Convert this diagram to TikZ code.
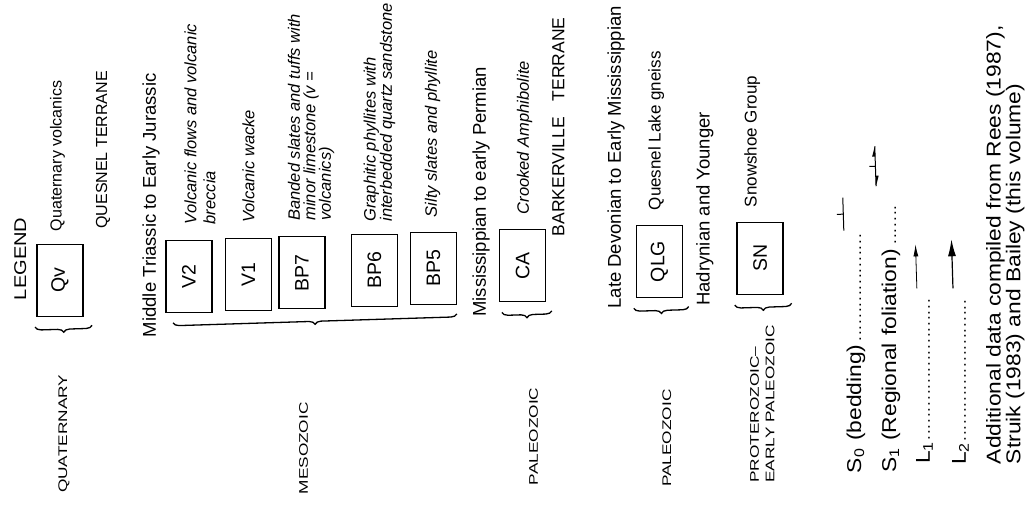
\documentclass[tikz,border=0pt]{standalone}
\usepackage{fontspec}
\setmainfont{Liberation Sans}
\usetikzlibrary{calc,decorations.pathreplacing,arrows.meta}
\newcommand{\legdots}{\leaders\hbox to 5pt{\hss\fontsize{15}{15}\selectfont.\hss}\hfill\null}

\begin{document}
\begin{tikzpicture}[x=1pt, y=-1pt, >=latex]
    \tikzstyle{lbl} = [rotate=90, anchor=base west, inner sep=0pt]
    \tikzstyle{unit} = [draw, line width=1.3pt, rotate=90, inner sep=0pt, minimum width=72pt, minimum height=46pt, font=\fontsize{19.5}{22}\selectfont]
    \tikzstyle{era} = [lbl, align=left, xscale=1.38, font=\fontsize{12.5}{15.5}\selectfont]
    \tikzstyle{age} = [lbl, font=\fontsize{18.5}{20}\selectfont]
    \tikzstyle{terrane} = [lbl, font=\fontsize{16}{18}\selectfont]
    \tikzstyle{desc} = [lbl, align=left, font=\itshape\fontsize{16.5}{19}\selectfont]
    \tikzstyle{plain} = [lbl, font=\fontsize{17}{19}\selectfont]
    \tikzstyle{struct} = [lbl, xscale=1.14, font=\fontsize{20}{18.5}\selectfont]
    \tikzstyle{grouping} = [decorate, decoration={brace, amplitude=6pt, mirror}, line width=1.3pt]

    \useasboundingbox (0,0) rectangle (1031,508);
    \begin{scope}[rotate around={1.8:(515,254)}]
    \node [lbl, xscale=1.18, font=\fontsize{17}{19}\selectfont] (legend) at (24.8,285) {LEGEND};

    \node [unit] (qv) at (59.3,266) {Qv};
    \node [plain, font=\fontsize{16}{18}\selectfont] (qvtxt) at (62.5,217) {Quaternary volcanics};
    \node [terrane] (quesnel) at (108,216) {QUESNEL TERRANE};
    \node [age] (triassic) at (153.4,326) {Middle Triassic to Early Jurassic};

    \node [unit] (v2) at (188.3,266) {V2};
    \node [desc] (v2txt) at (216.4,215) {Volcanic flows and volcanic\\breccia};
    \node [unit] (v1) at (247.9,266) {V1};
    \node [desc] (v1txt) at (255.5,215) {Volcanic wacke};
    \node [unit] (bp7) at (301.4,266) {BP7};
    \node [desc, font=\itshape\fontsize{16.5}{15.5}\selectfont] (bp7txt) at (332,215) {Banded slates and tuffs with\\minor limestone (v =\\volcanics)};
    \node [unit] (bp6) at (374,266) {BP6};
    \node [desc, font=\itshape\fontsize{16.5}{14}\selectfont] (bp6txt) at (393,218) {Graphitic phyllites with\\interbedded quartz sandstone};
    \node [unit] (bp5) at (433,266) {BP5};
    \node [desc] (bp5txt) at (438,215) {Silty slates and phyllite};

    \node [age] (mississippian) at (484,316) {Mississippian to early Permian};
    \node [unit] (ca) at (522.2,266) {CA};
    \node [desc] (catxt) at (530,215) {Crooked Amphibolite};
    \node [terrane, font=\fontsize{17.5}{19}\selectfont] (barkerville) at (565,238) {BARKERVILLE\hspace{0.9em}TERRANE};

    \node [age] (devonian) at (619,312) {Late Devonian to Early Mississippian};
    \node [unit] (qlg) at (659.2,266) {QLG};
    \node [plain] (qlgtxt) at (662,215) {Quesnel Lake gneiss};
    \node [age] (hadrynian) at (708,312) {Hadrynian and Younger};
    \node [unit] (sn) at (759.8,266) {SN};
    \node [plain] (sntxt) at (758,215) {Snowshoe Group};

    \draw [grouping] (33,312) -- (90,312);
    \draw [grouping] (171,312) -- (455,312);
    \draw [grouping] (500,312) -- (550,312);
    \draw [grouping] (632,312) -- (687,312);
    \draw [grouping] (733,312) -- (790,312);

    \node [era] (quaternary) at (59.7,479) {QUATERNARY};
    \node [era] (mesozoic) at (300.3,488) {MESOZOIC};
    \node [era] (paleozoic) at (530.7,486) {PALEOZOIC};
    \node [era] (paleozoicb) at (663.8,492) {PALEOZOIC};
    \node [era] (proterozoic) at (767,491) {PROTEROZOIC--\\EARLY PALEOZOIC};

    \node [struct, text width=210pt] (szero) at (854,484) {S\textsubscript{0} (bedding)\legdots};
    \node [struct, text width=239pt] (sone) at (889,485) {S\textsubscript{1} (Regional foliation)\legdots};
    \node [struct, text width=146pt] (lone) at (923,477) {L\textsubscript{1}\legdots};
    \node [struct, text width=149pt] (ltwo) at (959,479) {L\textsubscript{2}\legdots};
    \node [struct, align=left] (sources) at (1013.5,480) {Additional data compiled from Rees (1987),\\Struik (1983) and Bailey (this volume)};

    \draw [line width=1pt] (844.4,208) -- (844.4,241) (838,224.5) -- (844.4,224.5);
    \draw [line width=1pt] (878,157.6) -- (878,197.6) (872,177.6) -- (878,177.6);
    \fill (878,157.6) -- (878,168) -- (875,168) -- cycle;
    \fill (878,197.6) -- (878,187) -- (881,187) -- cycle;
    \draw [line width=0.8pt, -{Latex[length=12pt,width=5pt]}] (915.6,301) -- (915.6,257);
    \draw [line width=1.2pt, -{Latex[length=17pt,width=8pt]}] (951.7,302) -- (951.7,253);
    \end{scope}
\end{tikzpicture}
\end{document}
